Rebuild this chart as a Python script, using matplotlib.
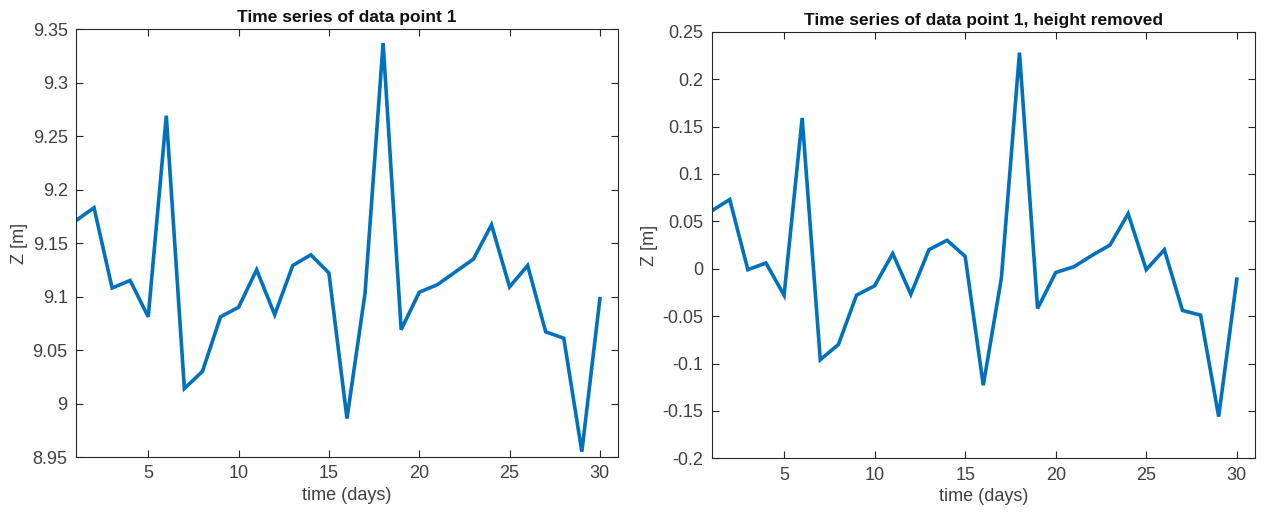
import matplotlib
matplotlib.use("Agg")
import matplotlib.pyplot as plt
from matplotlib.ticker import FuncFormatter, MultipleLocator

plt.rcParams['font.family'] = ['Liberation Sans', 'DejaVu Sans']
plt.rcParams['axes.unicode_minus'] = False

days = list(range(1, 31))
z_raw = [9.171, 9.183, 9.108, 9.115, 9.081, 9.269, 9.014, 9.030, 9.081, 9.090,
         9.125, 9.083, 9.129, 9.139, 9.122, 8.986, 9.103, 9.337, 9.069, 9.104,
         9.111, 9.123, 9.135, 9.167, 9.109, 9.129, 9.067, 9.061, 8.955, 9.098]
z_removed = [0.061, 0.073, -0.001, 0.006, -0.028, 0.159, -0.096, -0.080, -0.028, -0.018,
             0.016, -0.027, 0.020, 0.030, 0.013, -0.123, -0.010, 0.228, -0.042, -0.004,
             0.002, 0.014, 0.025, 0.058, -0.001, 0.020, -0.044, -0.049, -0.156, -0.011]

titles = ["Time series of data point 1", "Time series of data point 1, height removed"]
xlabel = "time (days)"
ylabel = "Z [m]"
xticks = [5, 10, 15, 20, 25, 30]

line_color = "#0072BD"
axis_color = "#262626"
tick_color = "#404040"

fig = plt.figure(figsize=(12.64, 5.15), dpi=100)
ax1 = fig.add_axes([0.0601, 0.1126, 0.4288, 0.8310])
ax2 = fig.add_axes([0.5630, 0.1101, 0.4298, 0.8283])

fmt = FuncFormatter(lambda v, p: ("%g" % round(v, 4)) if abs(v) > 1e-9 else "0")

def style(ax, data, ylim, step, title):
    ax.plot(days, data, color=line_color, lw=2.6, solid_joinstyle='miter')
    ax.set_xlim(1, 31)
    ax.set_ylim(*ylim)
    ax.set_xticks(xticks)
    ax.yaxis.set_major_locator(MultipleLocator(step))
    ax.yaxis.set_major_formatter(fmt)
    ax.tick_params(direction='in', length=5, width=0.8, top=True, right=True,
                   labelsize=13, colors=axis_color, labelcolor=tick_color, pad=6)
    for s in ax.spines.values():
        s.set_color(axis_color)
        s.set_linewidth(0.8)
    ax.set_title(title, fontsize=12.5, fontweight='bold', color='#111111', pad=5)
    ax.set_xlabel(xlabel, fontsize=13, color=tick_color, labelpad=3)
    ax.set_ylabel(ylabel, fontsize=13, color=tick_color, labelpad=3)

style(ax1, z_raw, (8.95, 9.35), 0.05, titles[0])
style(ax2, z_removed, (-0.2, 0.25), 0.05, titles[1])

fig.savefig("out.png", dpi=100)
